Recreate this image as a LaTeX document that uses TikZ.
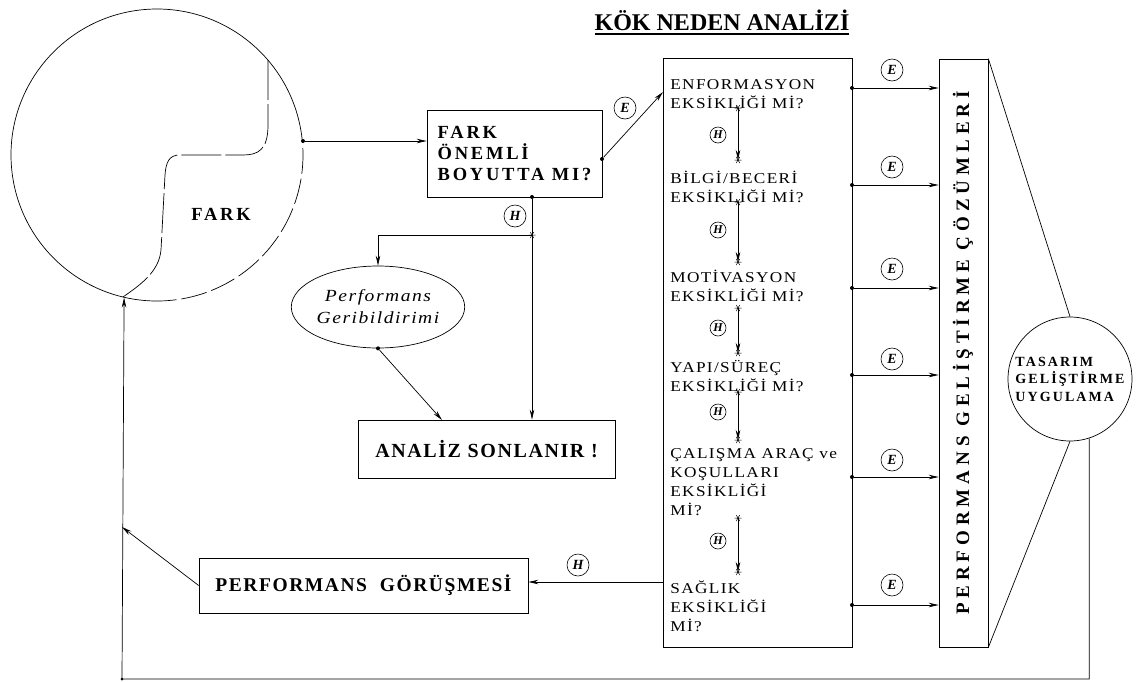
\documentclass[tikz,border=0pt]{standalone}
\usepackage{fontspec}
\setmainfont{Liberation Serif}
\newfontfamily\lsA{Liberation Serif}[LetterSpace=8]
\newfontfamily\lsB{Liberation Serif}[LetterSpace=15]
\newfontfamily\lsC{Liberation Serif}[LetterSpace=26]
\newfontfamily\boxf{Liberation Serif}[LetterSpace=9,FakeStretch=1.15]
\usetikzlibrary{arrows.meta,shapes.geometric}
\newcommand\ulthick[1]{\setbox0=\hbox{#1}\leavevmode\rlap{\rule[-4.5pt]{\wd0}{2pt}}\box0}
\begin{document}
\begin{tikzpicture}[x=1pt,y=-1pt,line width=0.7pt,
  >={Stealth[length=10pt,width=4.5pt]},
  box/.style={draw,inner sep=0pt},
  lbl/.style={draw,circle,inner sep=0pt,minimum size=22pt,line width=0.6pt,font=\fontsize{14}{14}\selectfont\bfseries\itshape},
  slbl/.style={lbl,minimum size=16pt,font=\fontsize{12}{12}\selectfont\bfseries\itshape},
  dot/.style={circle,fill,inner sep=0pt,minimum size=4pt},
  qtext/.style={anchor=west,inner sep=0pt,align=left,font=\boxf\fontsize{15}{19}\selectfont},
  astx/.pic={\draw[line width=0.5pt] (-3.5,0)--(3.5,0) (-1.75,-3)--(1.75,3) (-1.75,3)--(1.75,-3);}
]
\useasboundingbox (0,0) rectangle (1136,681);

% title
\node[anchor=base,inner sep=0pt,font=\bfseries\fontsize{24}{24}\selectfont] (title) at (722,30) {\ulthick{KÖK NEDEN ANALİZİ}};

% big circle FARK
\node[circle,minimum size=292pt,inner sep=0pt] (farkc) at (157,155) {};
\draw (157,155) ++(87:146) arc[start angle=87,end angle=345,radius=146];
\draw[dash pattern=on 26pt off 5pt] (157,155) ++(-15:146) arc[start angle=-15,end angle=87,radius=146];
\draw[dash pattern=on 40pt off 4pt] (268,60) -- (268,125) .. controls (268,150) and (258,155) .. (243,155) -- (180,155) .. controls (169,155) and (166,162) .. (165,175) -- (161,250) .. controls (159,272) and (140,285) .. (123,297);
\node[font=\lsB\bfseries\fontsize{18.5}{20}\selectfont] (farkt) at (221,214) {FARK};

% FARK box
\node[box,minimum width=175pt,minimum height=87pt,align=left,font=\lsB\bfseries\fontsize{18.5}{21}\selectfont] (fark) at (514.5,153.5) {FARK\\ÖNEMLİ\\BOYUTTA MI?};
\node[dot] (d1) at (303,141) {};
\draw[->] (d1) -- (d1 -| fark.west);

% main analysis box
\node[box,minimum width=189pt,minimum height=589pt] (main) at (757.5,352.5) {};
\node[qtext] (q1) at (670,94) {ENFORMASYON\\EKSİKLİĞİ Mİ?};
\node[qtext] (q2) at (670,186.5) {BİLGİ/BECERİ\\EKSİKLİĞİ Mİ?};
\node[qtext] (q3) at (670,286) {MOTİVASYON\\EKSİKLİĞİ Mİ?};
\node[qtext] (q4) at (670,376) {YAPI/SÜREÇ\\EKSİKLİĞİ Mİ?};
\node[qtext] (q5) at (670,482) {ÇALIŞMA ARAÇ ve\\KOŞULLARI\\EKSİKLİĞİ\\Mİ?};
\node[qtext] (q6) at (670,606) {SAĞLIK\\EKSİKLİĞİ\\Mİ?};

% E from fark to main
\node[dot] (d2) at (602,159) {};
\coordinate (m1) at (663,92);
\draw[->] (d2) -- (m1);
\node[lbl] (e0) at (625,108) {E};

% H from fark down
\node[dot] (d3) at (532,197) {};
\coordinate (j) at (532,235);
\draw (d3) -- (j);
\node[lbl] (h0) at (515,216) {H};

% Performans Geribildirimi
\node[draw,ellipse,minimum width=162pt,minimum height=82pt,inner sep=0pt,align=center,font=\boxf\itshape\fontsize{17}{22}\selectfont] (geri) at (378,307) {Performans\\Geribildirimi};
% ANALIZ SONLANIR
\node[box,minimum width=257pt,minimum height=58pt,font=\lsA\bfseries\fontsize{20}{24}\selectfont] (analiz) at (486.5,449) {ANALİZ SONLANIR !};

\draw[->] (j) -| (geri.north);
\draw[->] (j) -- (j |- analiz.north);
\pic at (j) {astx};
\node[dot] (d4) at (geri.south) {};
\coordinate (a1) at (442,420);
\draw[->] (d4) -- (a1);

% H arrows inside main box
\foreach \i/\ys/\ye/\yl in {1/108/160/135, 2/202/262/230, 3/308/353/328, 4/392/440/412, 5/518/572/541}{
  \coordinate (hs\i) at (738,\ys);
  \coordinate (he\i) at (738,\ye);
  \draw[->] (hs\i) -- (he\i);
  \pic at (hs\i) {astx};
  \pic at (he\i) {astx};
  \node[slbl] (hl\i) at (718,\yl) {H};
}

% right solutions box
\node[box,minimum width=49pt,minimum height=588pt] (sol) at (963.5,353) {};
\node[rotate=90,inner sep=0pt,font=\lsC\bfseries\fontsize{19}{19}\selectfont] (solt) at (963,353) {PERFORMANS GELİŞTİRME ÇÖZÜMLERİ};

% E arrows main -> sol
\foreach \i/\y/\yl in {1/88/70, 2/185/167, 3/288/269, 4/375/359, 5/477/460, 6/605/585}{
  \node[dot] (de\i) at (852,\y) {};
  \draw[->] (de\i) -- (de\i -| sol.west);
  \node[lbl] (el\i) at (892,\yl) {E};
}

% Tasarim circle
\node[draw,circle,minimum size=124pt,inner sep=0pt,align=left,font=\lsB\bfseries\fontsize{14}{17.5}\selectfont] (tas) at (1070,379) {TASARIM\\GELİŞTİRME\\UYGULAMA};
\draw (sol.north east) -- (tas.north);
\draw (sol.south east) -- (tas.south);

% feedback loop
\coordinate (cb) at (122,679);
\draw[->] (tas.-72) |- (cb) -- (farkc.-103.5);
\node[dot,minimum size=3pt] (cbd) at (cb) {};

% Performans gorusmesi
\node[box,minimum width=329pt,minimum height=55pt,font=\lsA\bfseries\fontsize{19.5}{24}\selectfont] (gorusme) at (363.5,585.5) {PERFORMANS\ \ GÖRÜŞMESİ};
\coordinate (mg) at (663,582);
\draw[->] (mg) -- (mg -| gorusme.east);
\node[lbl] (hg) at (578,565) {H};
\coordinate (g2) at (122,527);
\draw[->] (gorusme.west) -- (g2);

\end{tikzpicture}
\end{document}
